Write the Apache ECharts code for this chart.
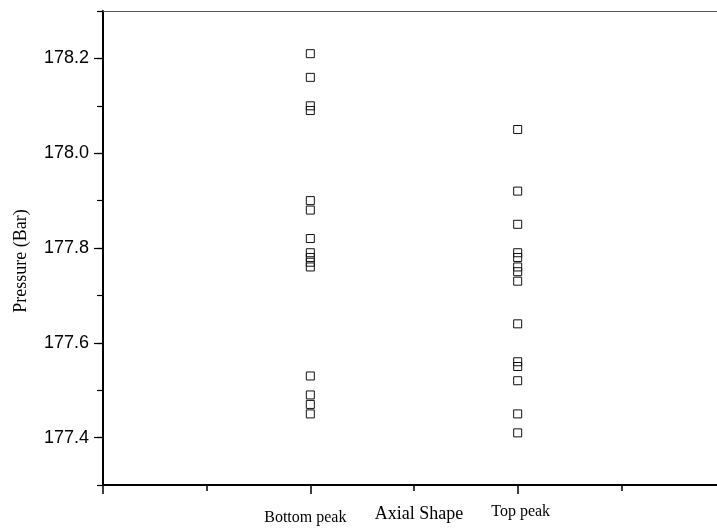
<!DOCTYPE html>
<html>
<head>
<meta charset="utf-8">
<script src="https://cdn.jsdelivr.net/npm/echarts@6/dist/echarts.min.js"></script>
<style>
  html, body { margin: 0; padding: 0; background: #fff; }
  #chart { width: 717px; height: 531px; }
</style>
</head>
<body>
<div id="chart"></div>
<script>
// Axial shape groups and where they sit on the x scale
var categories = ['Bottom peak', 'Top peak'];
var categoryX = [2, 4];

// Measured pressure (Bar) for each group
var bottomPeak = [178.21, 178.16, 178.10, 178.09, 177.90, 177.88, 177.82, 177.79,
                  177.78, 177.77, 177.76, 177.53, 177.49, 177.47, 177.45];
var topPeak = [178.05, 177.92, 177.85, 177.79, 177.78, 177.76, 177.75, 177.73,
               177.64, 177.56, 177.55, 177.52, 177.45, 177.41];

// Y tick labels
var yTickLabels = ['177.4', '177.6', '177.8', '178.0', '178.2'];

var groups = [bottomPeak, topPeak];
var points = [];
groups.forEach(function (vals, gi) {
  vals.forEach(function (v) { points.push([categoryX[gi], v]); });
});

var serif = '"Liberation Serif", "Times New Roman", serif';
var sans = '"Liberation Sans", Arial, sans-serif';

var chart = echarts.init(document.getElementById('chart'), null, { renderer: 'canvas' });

// the plot runs past the right edge of the canvas
var gridLeft = 103, gridRight = -8;

var option = {
  animation: false,
  backgroundColor: '#fff',
  grid: [
    { left: gridLeft, right: gridRight, top: 11, bottom: 46, containLabel: false, outerBoundsMode: 'none' },
    // inner grid spanning 177.4 .. 178.2 exactly, for the labelled major ticks
    { left: gridLeft, right: gridRight, top: 11 + 47.4, height: 379.2, containLabel: false, outerBoundsMode: 'none' }
  ],
  xAxis: [
    {
      // minor ticks every unit, with the axis line
      type: 'value', gridIndex: 0, position: 'bottom',
      min: 0, max: 6, interval: 1,
      axisLine: { show: true, onZero: false, lineStyle: { color: '#000', width: 2 } },
      axisTick: { show: true, inside: false, length: 6, lineStyle: { color: '#000', width: 1.5 } },
      axisLabel: { show: false },
      splitLine: { show: false },
      name: 'Axial Shape', nameLocation: 'middle', nameGap: 20,
      nameTextStyle: { fontFamily: serif, fontSize: 18, color: '#000', verticalAlign: 'top', padding: [0, 0, 0, 10] }
    },
    {
      // major ticks and the group labels
      type: 'value', gridIndex: 0, position: 'bottom',
      min: 0, max: 6, interval: 2,
      axisLine: { show: false },
      axisTick: { show: true, length: 9, lineStyle: { color: '#000', width: 1.5 } },
      axisLabel: {
        show: true, margin: 19,
        formatter: function (v) {
          var i = categoryX.indexOf(v);
          if (i === 0) return '{b|' + categories[0] + '}';
          if (i === 1) return '{t|' + categories[1] + '}';
          return '';
        },
        rich: {
          b: { fontFamily: serif, fontSize: 16, color: '#000', padding: [6, 10, 0, 0] },
          t: { fontFamily: serif, fontSize: 16, color: '#000', padding: [0, 0, 0, 6] }
        }
      },
      splitLine: { show: false }
    },
    {
      // frame line along the top
      type: 'value', gridIndex: 0, position: 'top',
      min: 0, max: 6,
      axisLine: { show: true, onZero: false, lineStyle: { color: '#555', width: 1.2 } },
      axisTick: { show: false }, axisLabel: { show: false }, splitLine: { show: false }
    },
    {
      type: 'value', gridIndex: 1, min: 0, max: 6, show: false
    }
  ],
  yAxis: [
    {
      // full-height axis with a tick every 0.1
      type: 'value', gridIndex: 0, position: 'left',
      min: 177.3, max: 178.3, interval: 0.1,
      axisLine: { show: true, onZero: false, lineStyle: { color: '#000', width: 2 } },
      axisTick: { show: true, length: 6, lineStyle: { color: '#000', width: 1.2 } },
      axisLabel: { show: false },
      splitLine: { show: false },
      name: 'Pressure (Bar)', nameLocation: 'middle', nameGap: 73, nameRotate: 90,
      nameTextStyle: { fontFamily: serif, fontSize: 18, color: '#000', padding: [0, 26, 0, 0] }
    },
    {
      // labelled ticks every 0.2
      type: 'value', gridIndex: 1, position: 'left',
      min: 177.4, max: 178.2, interval: 0.2,
      axisLine: { show: false },
      axisTick: { show: true, length: 9, lineStyle: { color: '#000', width: 1.2 } },
      axisLabel: {
        show: true, margin: 14, fontFamily: sans, fontSize: 18, color: '#000',
        formatter: function (v) {
          var s = v.toFixed(1);
          return yTickLabels.indexOf(s) >= 0 ? s : '';
        }
      },
      splitLine: { show: false }
    }
  ],
  series: [
    {
      type: 'scatter',
      xAxisIndex: 0, yAxisIndex: 0,
      symbol: 'rect', symbolSize: 8,
      itemStyle: { color: 'rgba(0,0,0,0)', borderColor: '#111', borderWidth: 1, opacity: 1 },
      emphasis: { disabled: true },
      data: points
    }
  ]
};

chart.setOption(option);
</script>
</body>
</html>
